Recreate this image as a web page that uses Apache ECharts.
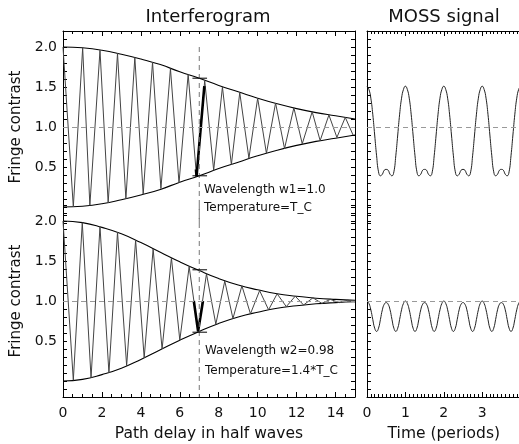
<!DOCTYPE html>
<html>
<head>
<meta charset="utf-8">
<script src="https://cdn.jsdelivr.net/npm/echarts@6/dist/echarts.min.js"></script>
<style>
html, body { margin: 0; padding: 0; background: #fff; }
#chart { width: 519px; height: 444px; }
</style>
</head>
<body>
<div id="chart"></div>
<script>
// envelope samples (path delay in half waves)
var envX = [0, 1, 2, 3, 4, 5, 6, 7, 8, 9, 10, 11, 12, 13, 14, 15];
var topUpper = [2.0, 1.99, 1.96, 1.91, 1.85, 1.78, 1.69, 1.61, 1.52, 1.44, 1.36, 1.29, 1.23, 1.18, 1.14, 1.10];
var topLower = [0.0, 0.01, 0.04, 0.09, 0.15, 0.22, 0.31, 0.39, 0.48, 0.56, 0.64, 0.71, 0.77, 0.82, 0.86, 0.90];
var botUpper = [2.0, 1.98, 1.92, 1.84, 1.73, 1.61, 1.49, 1.38, 1.28, 1.20, 1.14, 1.09, 1.06, 1.035, 1.02, 1.01];
var botLower = [0.0, 0.02, 0.08, 0.16, 0.27, 0.39, 0.51, 0.62, 0.72, 0.80, 0.86, 0.91, 0.94, 0.965, 0.98, 0.99];

// fringe peaks / troughs
var topFringeX = [0, 0.53, 1.01, 1.38, 1.9, 2.32, 2.8, 3.23, 3.69, 4.12, 4.6, 5.03, 5.52, 5.96, 6.43, 6.86, 7.28,
  7.74, 8.19, 8.65, 9.08, 9.55, 10.0, 10.45, 10.92, 11.38, 11.86, 12.29, 12.8, 13.21, 13.66, 14.07, 14.5, 14.9];
var topFringeY = [2.0, 0.0, 1.99, 0.02, 1.96, 0.05, 1.92, 0.10, 1.87, 0.16, 1.81, 0.23, 1.73, 0.30, 1.66, 0.38, 1.58,
  0.46, 1.50, 0.53, 1.43, 0.61, 1.36, 0.67, 1.30, 0.73, 1.24, 0.79, 1.19, 0.83, 1.15, 0.87, 1.12, 0.90];
var botFringeX = [0, 0.53, 0.99, 1.44, 1.9, 2.36, 2.8, 3.27, 3.73, 4.17, 4.63, 5.09, 5.57, 6.0, 6.48, 6.94, 7.37,
  7.85, 8.31, 8.73, 9.19, 9.63, 10.1, 10.56, 11.0, 11.47, 11.93, 12.36, 12.84, 13.3, 13.73, 14.2, 14.63, 15.0];
var botFringeY = [2.0, 0.01, 1.98, 0.04, 1.93, 0.10, 1.86, 0.19, 1.76, 0.29, 1.65, 0.40, 1.54, 0.51, 1.43, 0.62, 1.34,
  0.71, 1.25, 0.78, 1.19, 0.84, 1.13, 0.89, 1.09, 0.93, 1.06, 0.95, 1.04, 0.97, 1.02, 0.98, 1.01, 0.99];

// part of the fringe swept during one modulation period
var topSweepX = [6.83, 6.86, 7.26];
var topSweepY = [0.47, 0.38, 1.51];
var botSweepX = [6.72, 6.94, 7.19];
var botSweepY = [1.0, 0.62, 1.0];

var cursorX = 7.0;
var barSpan = [6.65, 7.4];
var topBarLevels = [1.61, 0.39];
var botBarLevels = [1.39, 0.61];

// MOSS signal vs time (periods)
var mossT = [0, 0.05, 0.1, 0.15, 0.2, 0.25, 0.3, 0.35, 0.4, 0.45, 0.5, 0.55, 0.6, 0.65, 0.7, 0.75, 0.8, 0.85, 0.9, 0.95,
  1, 1.05, 1.1, 1.15, 1.2, 1.25, 1.3, 1.35, 1.4, 1.45, 1.5, 1.55, 1.6, 1.65, 1.7, 1.75, 1.8, 1.85, 1.9, 1.95,
  2, 2.05, 2.1, 2.15, 2.2, 2.25, 2.3, 2.35, 2.4, 2.45, 2.5, 2.55, 2.6, 2.65, 2.7, 2.75, 2.8, 2.85, 2.9, 2.95,
  3, 3.05, 3.1, 3.15, 3.2, 3.25, 3.3, 3.35, 3.4, 3.45, 3.5, 3.55, 3.6, 3.65, 3.7, 3.75, 3.8, 3.85, 3.9, 3.95, 4];
var mossTop = [1.51, 1.47, 1.36, 1.16, 0.90, 0.64, 0.44, 0.39, 0.41, 0.46, 0.47, 0.46, 0.41, 0.39, 0.44, 0.64, 0.90, 1.16, 1.36, 1.47,
  1.51, 1.47, 1.36, 1.16, 0.90, 0.64, 0.44, 0.39, 0.41, 0.46, 0.47, 0.46, 0.41, 0.39, 0.44, 0.64, 0.90, 1.16, 1.36, 1.47,
  1.51, 1.47, 1.36, 1.16, 0.90, 0.64, 0.44, 0.39, 0.41, 0.46, 0.47, 0.46, 0.41, 0.39, 0.44, 0.64, 0.90, 1.16, 1.36, 1.47,
  1.51, 1.47, 1.36, 1.16, 0.90, 0.64, 0.44, 0.39, 0.41, 0.46, 0.47, 0.46, 0.41, 0.39, 0.44, 0.64, 0.90, 1.16, 1.36, 1.47, 1.51];
var mossBot = [1.0, 0.97, 0.89, 0.77, 0.66, 0.62, 0.66, 0.77, 0.89, 0.96, 0.98, 0.96, 0.89, 0.77, 0.66, 0.62, 0.66, 0.77, 0.89, 0.97,
  1.0, 0.97, 0.89, 0.77, 0.66, 0.62, 0.66, 0.77, 0.89, 0.96, 0.98, 0.96, 0.89, 0.77, 0.66, 0.62, 0.66, 0.77, 0.89, 0.97,
  1.0, 0.97, 0.89, 0.77, 0.66, 0.62, 0.66, 0.77, 0.89, 0.96, 0.98, 0.96, 0.89, 0.77, 0.66, 0.62, 0.66, 0.77, 0.89, 0.97,
  1.0, 0.97, 0.89, 0.77, 0.66, 0.62, 0.66, 0.77, 0.89, 0.96, 0.98, 0.96, 0.89, 0.77, 0.66, 0.62, 0.66, 0.77, 0.89, 0.97, 1.0];

var FONT = 'DejaVu Sans';
var INK = '#111';

function pairs(xs, ys) {
  return xs.map(function (x, i) { return [x, ys[i]]; });
}

function xAx(grid, pos, max, interval, minorSplit, labels, name) {
  return {
    type: 'value', gridIndex: grid, position: pos, min: 0, max: max, interval: interval,
    axisLine: { show: true, onZero: false, lineStyle: { color: '#000', width: 1 } },
    axisTick: { show: true, inside: true, length: 5, lineStyle: { color: '#000' } },
    minorTick: { show: true, splitNumber: minorSplit, length: 3, lineStyle: { color: '#000' } },
    splitLine: { show: false },
    axisLabel: {
      show: labels, margin: 9, color: INK, fontFamily: FONT, fontSize: 14, showMaxLabel: false
    },
    name: name || '', nameLocation: 'middle', nameGap: 29,
    nameTextStyle: { color: INK, fontFamily: FONT, fontSize: 15.5 }
  };
}

function yAx(grid, pos, labels, name) {
  return {
    type: 'value', gridIndex: grid, position: pos, min: -0.2, max: 2.2, interval: 0.1,
    axisLine: { show: true, onZero: false, lineStyle: { color: '#000', width: 1 } },
    axisTick: { show: true, inside: true, length: 4, lineStyle: { color: '#000' } },
    splitLine: { show: false },
    axisLabel: {
      show: labels, margin: 6, color: INK, fontFamily: FONT, fontSize: 14,
      formatter: function (v) {
        var h = v * 2;
        if (Math.abs(h - Math.round(h)) < 1e-6 && v > 0.3 && v < 2.1) return v.toFixed(1);
        return '';
      }
    },
    name: name || '', nameLocation: 'middle', nameGap: 32,
    nameTextStyle: { color: INK, fontFamily: FONT, fontSize: 15 }
  };
}

var oneLine = {
  silent: true, symbol: 'none', label: { show: false },
  lineStyle: { type: [5, 4], color: '#999', width: 1 },
  data: [{ yAxis: 1 }]
};

function line(xi, yi, data, color, width, extra) {
  var s = {
    type: 'line', xAxisIndex: xi, yAxisIndex: yi, data: data, symbol: 'none',
    lineStyle: { color: color, width: width }, animation: false, silent: true
  };
  for (var k in extra) s[k] = extra[k];
  return s;
}

function panelSeries(xi, yi, up, lo, fx, fy, sx, sy, bars, cursorTop) {
  return [
    line(xi, yi, pairs(envX, up), '#000', 1.1, { smooth: true, markLine: oneLine }),
    line(xi, yi, pairs(envX, lo), '#000', 1.1, { smooth: true }),
    line(xi, yi, pairs(fx, fy), '#444', 1, {}),
    line(xi, yi, pairs(sx, sy), '#000', 2.6, {}),
    line(xi, yi, [[cursorX, cursorTop], [cursorX, -0.2]], '#777', 1, { lineStyle: { color: '#777', width: 1, type: [5, 4] } }),
    line(xi, yi, [[barSpan[0], bars[0]], [barSpan[1], bars[0]]], '#000', 1, {}),
    line(xi, yi, [[barSpan[0], bars[1]], [barSpan[1], bars[1]]], '#000', 1, {})
  ];
}

var series = []
  .concat(panelSeries(0, 0, topUpper, topLower, topFringeX, topFringeY, topSweepX, topSweepY, topBarLevels, 2.0))
  .concat(panelSeries(1, 2, botUpper, botLower, botFringeX, botFringeY, botSweepX, botSweepY, botBarLevels, 2.2))
  .concat([
    line(2, 4, pairs(mossT, mossTop), '#222', 1, { smooth: true, markLine: oneLine }),
    line(3, 5, pairs(mossT, mossBot), '#222', 1, { smooth: true, markLine: oneLine })
  ]);

var chart = echarts.init(document.getElementById('chart'));
chart.setOption({
  backgroundColor: '#fff',
  animation: false,
  grid: [
    { left: 63, top: 31, width: 292, height: 192, outerBoundsMode: 'none' },
    { left: 63, top: 205, width: 292, height: 192, outerBoundsMode: 'none' },
    { left: 367, top: 31, width: 153.6, height: 192, outerBoundsMode: 'none' },
    { left: 367, top: 205, width: 153.6, height: 192, outerBoundsMode: 'none' }
  ],
  xAxis: [
    xAx(0, 'top', 15, 2, 4, false),
    xAx(1, 'bottom', 15, 2, 4, true, 'Path delay in half waves'),
    xAx(2, 'top', 4, 1, 10, false),
    xAx(3, 'bottom', 4, 1, 10, true, 'Time (periods)')
  ],
  yAxis: [
    yAx(0, 'left', true, 'Fringe contrast'),
    yAx(0, 'right', false),
    yAx(1, 'left', true, 'Fringe contrast'),
    yAx(1, 'right', false),
    yAx(2, 'left', false),
    yAx(3, 'left', false)
  ],
  graphic: [
    { type: 'text', x: 208, y: 17, style: { text: 'Interferogram', font: '18px ' + FONT, fill: INK, align: 'center', verticalAlign: 'middle' } },
    { type: 'text', x: 444, y: 17, style: { text: 'MOSS signal', font: '18px ' + FONT, fill: INK, align: 'center', verticalAlign: 'middle' } },
    { type: 'text', x: 204, y: 190, style: { text: 'Wavelength w1=1.0', font: '12px ' + FONT, fill: INK, verticalAlign: 'middle' } },
    { type: 'text', x: 204, y: 208, style: { text: 'Temperature=T_C', font: '12px ' + FONT, fill: INK, verticalAlign: 'middle' } },
    { type: 'text', x: 205, y: 351, style: { text: 'Wavelength w2=0.98', font: '12px ' + FONT, fill: INK, verticalAlign: 'middle' } },
    { type: 'text', x: 205, y: 371, style: { text: 'Temperature=1.4*T_C', font: '12px ' + FONT, fill: INK, verticalAlign: 'middle' } }
  ],
  series: series
});
</script>
</body>
</html>
